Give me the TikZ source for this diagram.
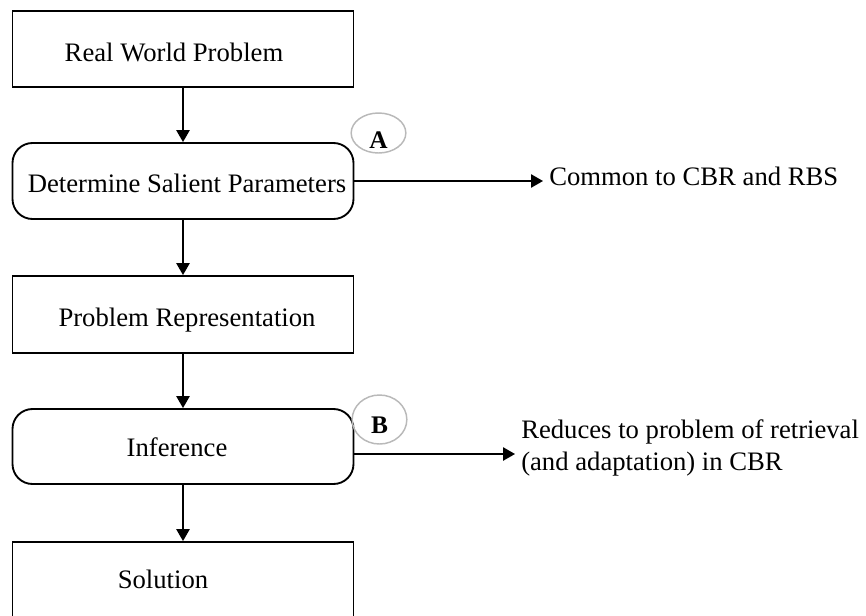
\documentclass[tikz,border=0pt]{standalone}
\usepackage{fontspec}
\setmainfont{Liberation Serif}
\usetikzlibrary{arrows.meta,shapes.geometric}

\definecolor{ringgray}{RGB}{185,185,185}

\tikzset{
  stepbox/.style={draw=black, line width=1.4pt, minimum width=255.75pt, inner sep=0pt},
  roundbox/.style={stepbox, rounded corners=15pt},
  label/.style={font=\fontsize{20}{24}\selectfont, inner sep=0pt, anchor=base},
  sidetext/.style={font=\fontsize{20}{24}\selectfont, inner sep=0pt, anchor=base west, align=left},
  ring/.style={ellipse, draw=ringgray, line width=1.1pt, minimum width=41pt, minimum height=30pt, inner sep=0pt},
  tag/.style={font=\fontsize{19}{22}\selectfont\bfseries, inner sep=0pt, anchor=base},
  flow/.style={line width=1.2pt, -{Triangle[length=9pt, width=10pt]}}
}

\begin{document}
\begin{tikzpicture}[x=0.75pt, y=-0.75pt]
\useasboundingbox (0,0) rectangle (866,615);

% process boxes
\node[stepbox, minimum height=57pt] (b1) at (183,49) {};
\node[roundbox, minimum height=57pt] (b2) at (183,181) {};
\node[stepbox, minimum height=57.75pt] (b3) at (183,314.5) {};
\node[roundbox, minimum height=56.25pt] (b4) at (183,446.5) {};
% the last box runs past the lower edge of the page
\node[stepbox, minimum height=75pt] (b5) at (183,592) {};

% box captions
\node[label] (t1) at (174,61) {Real World Problem};
\node[label] (t2) at (187,192) {Determine Salient Parameters};
\node[label] (t3) at (187,326) {Problem Representation};
\node[label] (t4) at (177,456) {Inference};
\node[label] (t5) at (163,588) {Solution};

% markers
\node[ring] (ra) at (378.5,133) {};
\node[tag] (ta) at (378.5,148) {A};
\node[ring, minimum height=36.75pt] (rb) at (379.5,419.5) {};
\node[tag] (tb) at (379.5,433) {B};

% main flow
\draw[flow] (b1.south) -- (b2.north);
\draw[flow] (b2.south) -- (b3.north);
\draw[flow] (b3.south) -- (b4.north);
\draw[flow] (b4.south) -- (b5.north);

% side notes
\coordinate (ca) at (543,181);
\coordinate (cb) at (515,454);
\draw[flow] (b2.east) -- (ca);
\draw[flow] (b4.east |- cb) -- (cb);
\node[sidetext] (na) at (549,185) {Common to CBR and RBS};
\node[sidetext] (nb) at (521,470) {Reduces to problem of retrieval\\(and adaptation) in CBR};
\end{tikzpicture}
\end{document}
